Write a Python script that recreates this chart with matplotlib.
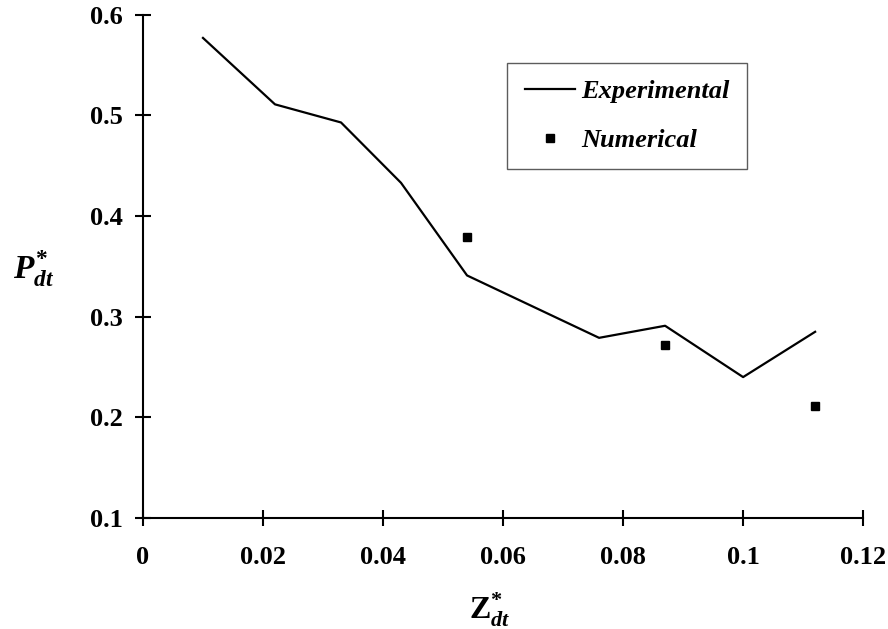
import matplotlib
matplotlib.use('Agg')
import matplotlib.pyplot as plt

# data
z_exp = [0.010, 0.022, 0.033, 0.043, 0.054, 0.076, 0.087, 0.100, 0.112]
p_exp = [0.577, 0.511, 0.493, 0.433, 0.341, 0.279, 0.291, 0.240, 0.285]
z_num = [0.054, 0.087, 0.112]
p_num = [0.379, 0.272, 0.211]
x_ticks = [0, 0.02, 0.04, 0.06, 0.08, 0.1, 0.12]
x_labels = ['0', '0.02', '0.04', '0.06', '0.08', '0.1', '0.12']
y_ticks = [0.1, 0.2, 0.3, 0.4, 0.5, 0.6]
y_labels = ['0.1', '0.2', '0.3', '0.4', '0.5', '0.6']

plt.rcParams['font.family'] = 'Liberation Serif'
plt.rcParams['font.weight'] = 'bold'
plt.rcParams['mathtext.fontset'] = 'custom'
plt.rcParams['mathtext.rm'] = 'Liberation Serif:bold'
plt.rcParams['mathtext.it'] = 'Liberation Serif:italic:bold'
plt.rcParams['mathtext.bf'] = 'Liberation Serif:bold'

fig = plt.figure(figsize=(8.88, 6.29), dpi=100)
ax = fig.add_axes([0.161, 0.1765, 0.811, 0.8])

ax.plot(z_exp, p_exp, color='black', linewidth=1.6, label='Experimental')
ax.plot(z_num, p_num, linestyle='none', marker='s', markersize=6,
        color='black', label='Numerical')

ax.set_xlim(0, 0.12)
ax.set_ylim(0.1, 0.6)
ax.set_xticks(x_ticks)
ax.set_xticklabels(x_labels)
ax.set_yticks(y_ticks)
ax.set_yticklabels(y_labels)

for side in ['top', 'right']:
    ax.spines[side].set_visible(False)
for side in ['left', 'bottom']:
    ax.spines[side].set_linewidth(1.5)

ax.tick_params(direction='inout', length=11, width=1.5, labelsize=19)
ax.tick_params(axis='y', pad=9)
ax.tick_params(axis='x', pad=15)

# Z upright, subscript italic
ax.set_xlabel(r'$\mathrm{Z}^{*}_{dt}$', fontsize=23)
ax.xaxis.set_label_coords(0.482, -0.145)
ax.set_ylabel(r'$P^{*}_{dt}$', fontsize=24, rotation=0, ha='left', va='center')
ax.yaxis.set_label_coords(-0.181, 0.495)

leg = ax.legend(loc='upper left', bbox_to_anchor=(0.506, 0.905),
                borderaxespad=0, frameon=True, fancybox=False, borderpad=0.65,
                handlelength=1.9, handletextpad=0.25, labelspacing=0.95,
                numpoints=1,
                prop={'family': 'Liberation Serif', 'style': 'italic',
                      'weight': 'bold', 'size': 19})
leg.get_frame().set_edgecolor('#333333')
leg.get_frame().set_linewidth(1.0)

fig.savefig('out.png', dpi=100)
